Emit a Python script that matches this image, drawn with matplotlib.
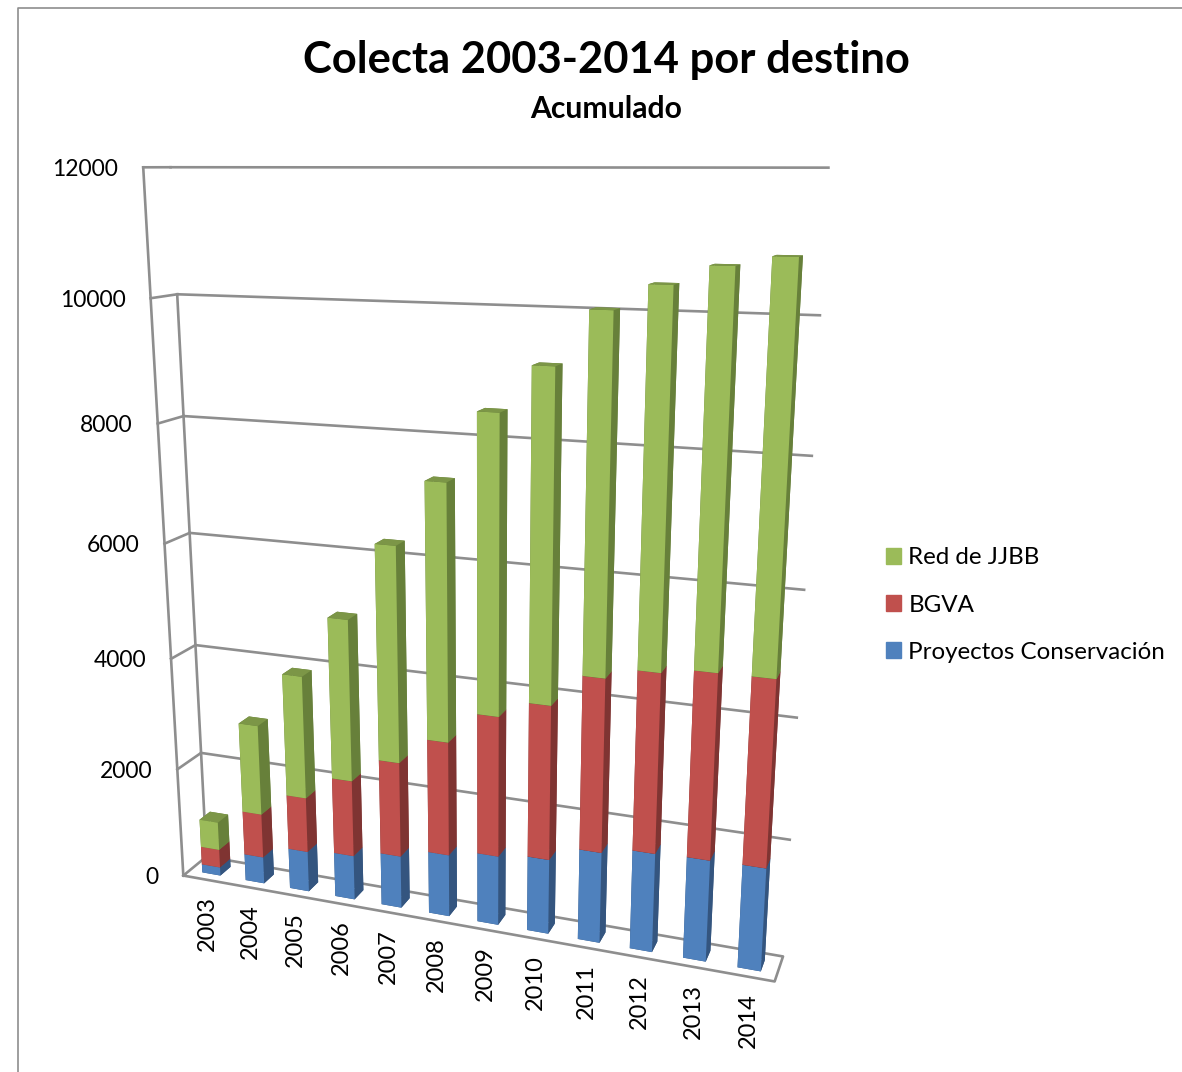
import numpy as np
import matplotlib
matplotlib.use("Agg")
import matplotlib.pyplot as plt
from matplotlib.lines import Line2D
from matplotlib.patches import Patch
from mpl_toolkits.mplot3d import proj3d

years = ["2003", "2004", "2005", "2006", "2007", "2008",
         "2009", "2010", "2011", "2012", "2013", "2014"]
proyectos = [155, 490, 735, 800, 935, 1100, 1220, 1305, 1570, 1695, 1725, 1740]
bgva = [335, 800, 985, 1355, 1665, 1975, 2405, 2615, 2900, 2965, 3035, 3030]
red_jjbb = [515, 1615, 2165, 2800, 3660, 4260, 4835, 5270, 5560, 5750, 5930, 6060]
z_ticks = [0, 2000, 4000, 6000, 8000, 10000, 12000]

# front, side, top colour per series
blue = ("#4F81BD", "#34557F", "#3F6797")
red = ("#C0504D", "#7F3432", "#9A403E")
green = ("#9BBB59", "#67803A", "#7C9647")
grid_c = "#8E8E8E"

W, H = 1182, 1072
plt.rcParams["font.family"] = ["Lato", "DejaVu Sans"]

fig = plt.figure(figsize=(W / 100, H / 100), dpi=100)

# view of the excel chart, worked out from its vanishing points
side = 1013.6
ax = fig.add_axes([-37.5 / W, -15.5 / H, side / W, side / H], projection="3d", computed_zorder=False)
ax.set_proj_type("persp", focal_length=0.27396)
ax.view_init(elev=15, azim=-70)
ax.set_xlim(0, 12.657)
ax.set_ylim(0, 1)
ax.set_zlim(0, 12000)
ax.set_box_aspect((0.4142, 0.0303, 0.4563))
ax.set_axis_off()
ax.patch.set_alpha(0)

# walls
for v in z_ticks[1:]:
    ax.plot([0, 12], [1, 1], [v, v], color=grid_c, lw=1.9, zorder=1)
    ax.plot([0, 0], [0, 1], [v, v], color=grid_c, lw=1.9, zorder=1)
ax.plot([0, 0], [0, 0], [0, 12000], color=grid_c, lw=1.9, zorder=1)
ax.plot([0, 0], [1, 1], [0, 10000], color=grid_c, lw=1.9, zorder=1)
ax.plot([0, 12, 12, 0, 0], [0, 0, 1, 1, 0], [0, 0, 0, 0, 0], color=grid_c, lw=1.9, zorder=1)

# bars, one collection so that the faces get sorted together
xs, ys, zs, dxs, dys, dzs, face_colors = [], [], [], [], [], [], []
for i in range(len(years)):
    base = 0
    for vals, cols in ((proyectos, blue), (bgva, red), (red_jjbb, green)):
        xs.append(i + 0.29)
        ys.append(0.28)
        zs.append(base)
        dxs.append(0.42)
        dys.append(0.45)
        dzs.append(vals[i])
        base += vals[i]
        front, dark, top = cols
        # bar3d face order: bottom, top, -y, +y, -x, +x
        face_colors += [dark, top, front, dark, dark, dark]
ax.bar3d(xs, ys, zs, dxs, dys, dzs, color=face_colors, shade=False, zsort="max", zorder=2)

# tick labels stay upright, so they are placed in 2d from the projected point
proj = ax.get_proj()
for i, y in enumerate(years):
    x2, y2, _ = proj3d.proj_transform(i + 0.5, 0, 0, proj)
    ax.annotate(y, xy=(x2, y2), xytext=(2, -17), textcoords="offset pixels", rotation=90,
                ha="center", va="top", fontsize=17, annotation_clip=False, zorder=3)
for v in z_ticks:
    x2, y2, _ = proj3d.proj_transform(0, 0, v, proj)
    ax.annotate(str(v), xy=(x2, y2), xytext=(-25, -2), textcoords="offset pixels",
                ha="right", va="center", fontsize=16.5, annotation_clip=False, zorder=3)

# chart frame
fig.add_artist(Line2D([18 / W, 18 / W, 1], [0, 1 - 8 / H, 1 - 8 / H], color="#8E8E8E", lw=1.2))

fig.text(606 / W, 1 - 60.5 / H, "Colecta 2003-2014 por destino", ha="center", va="center",
         fontsize=31.3, fontweight="bold")
fig.text(606 / W, 1 - 109 / H, "Acumulado", ha="center", va="center", fontsize=21.7, fontweight="bold")

handles = [Patch(color=green[0]), Patch(color=red[0]), Patch(color=blue[0])]
fig.legend(handles, ["Red de JJBB", "BGVA", "Proyectos Conservación"],
           loc="center left", bbox_to_anchor=(885.5 / W, 1 - 605 / H), frameon=False, fontsize=17.4,
           handlelength=0.66, handleheight=0.66, handletextpad=0.29, labelspacing=1.08,
           borderpad=0, borderaxespad=0)

fig.savefig("out.png", dpi=100)
